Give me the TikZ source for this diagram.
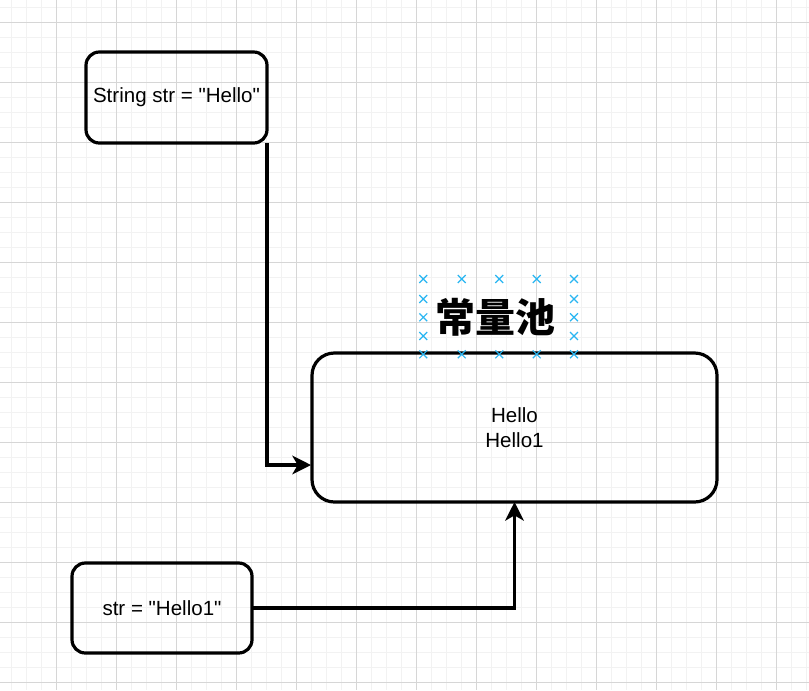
\documentclass[tikz,border=0pt]{standalone}
\usepackage{fontspec}
\setmainfont{Liberation Sans}
\newfontfamily\cjk{Noto Sans CJK SC}
\usetikzlibrary{arrows.meta,shapes.misc}
\definecolor{gridmajor}{HTML}{D6D6D6}
\definecolor{gridminor}{HTML}{F2F2F2}
\definecolor{handleblue}{HTML}{29B6F2}

\begin{document}
\begin{tikzpicture}[x=0.75pt,y=-0.75pt]
		\tikzset{codebox/.style = {draw, rounded corners=10pt, line width=2.4pt, inner sep=0pt, outer sep=0pt, align=center, font=\fontsize{15.4}{18.75}\selectfont},
			link/.style = {line width=2.4pt, -{Stealth[length=14pt,width=14pt,inset=4pt]}},
			handle/.style = {cross out, draw=handleblue, line width=0.9pt, minimum size=5pt, inner sep=0pt}}

		\useasboundingbox (0,0) rectangle (809,690);
		\fill[white] (0,0) rectangle (809,690);

		% canvas grid
		\foreach \x in {11.7,26.7,...,809} \draw[gridminor, line width=1.1pt] (\x,0) -- (\x,690);
		\foreach \y in {7.7,22.7,...,690} \draw[gridminor, line width=1.1pt] (0,\y) -- (809,\y);
		\foreach \x in {56.7,116.7,...,809} \draw[gridmajor, line width=0.75pt] (\x,0) -- (\x,690);
		\foreach \y in {22.7,82.7,...,690} \draw[gridmajor, line width=0.75pt] (0,\y) -- (809,\y);

		\node[codebox, minimum width=135.75pt, minimum height=68.25pt] (strbox) at (176.5,97.5) {String str = \textquotedbl Hello\textquotedbl};
		\node[codebox, minimum width=303.75pt, minimum height=111.75pt, rounded corners=16.8pt] (pool) at (514.5,427.5) {Hello\\Hello1};
		\node[codebox, minimum width=135pt, minimum height=67.5pt] (strbox2) at (162,608) {str = \textquotedbl Hello1\textquotedbl};
		\node[font=\cjk\bfseries\fontsize{30}{36}\selectfont] (pooltitle) at (495,317) {常量池};

		% selection handles
		\foreach \hx [count=\i] in {423.3,461.7,499.3,536.7,574} {
			\node[handle] (ht\i) at (\hx,279) {};
			\node[handle] (hb\i) at (\hx,354.3) {};
		}
		\foreach \hy [count=\i] in {299,317.3,336} {
			\node[handle] (hl\i) at (423.3,\hy) {};
			\node[handle] (hr\i) at (574,\hy) {};
		}

		\coordinate (poolin) at (311,465);
		\draw[link] (strbox.south east) |- (poolin);
		\draw[link] (strbox2.east) -| (pool.south);

	\end{tikzpicture}
\end{document}
